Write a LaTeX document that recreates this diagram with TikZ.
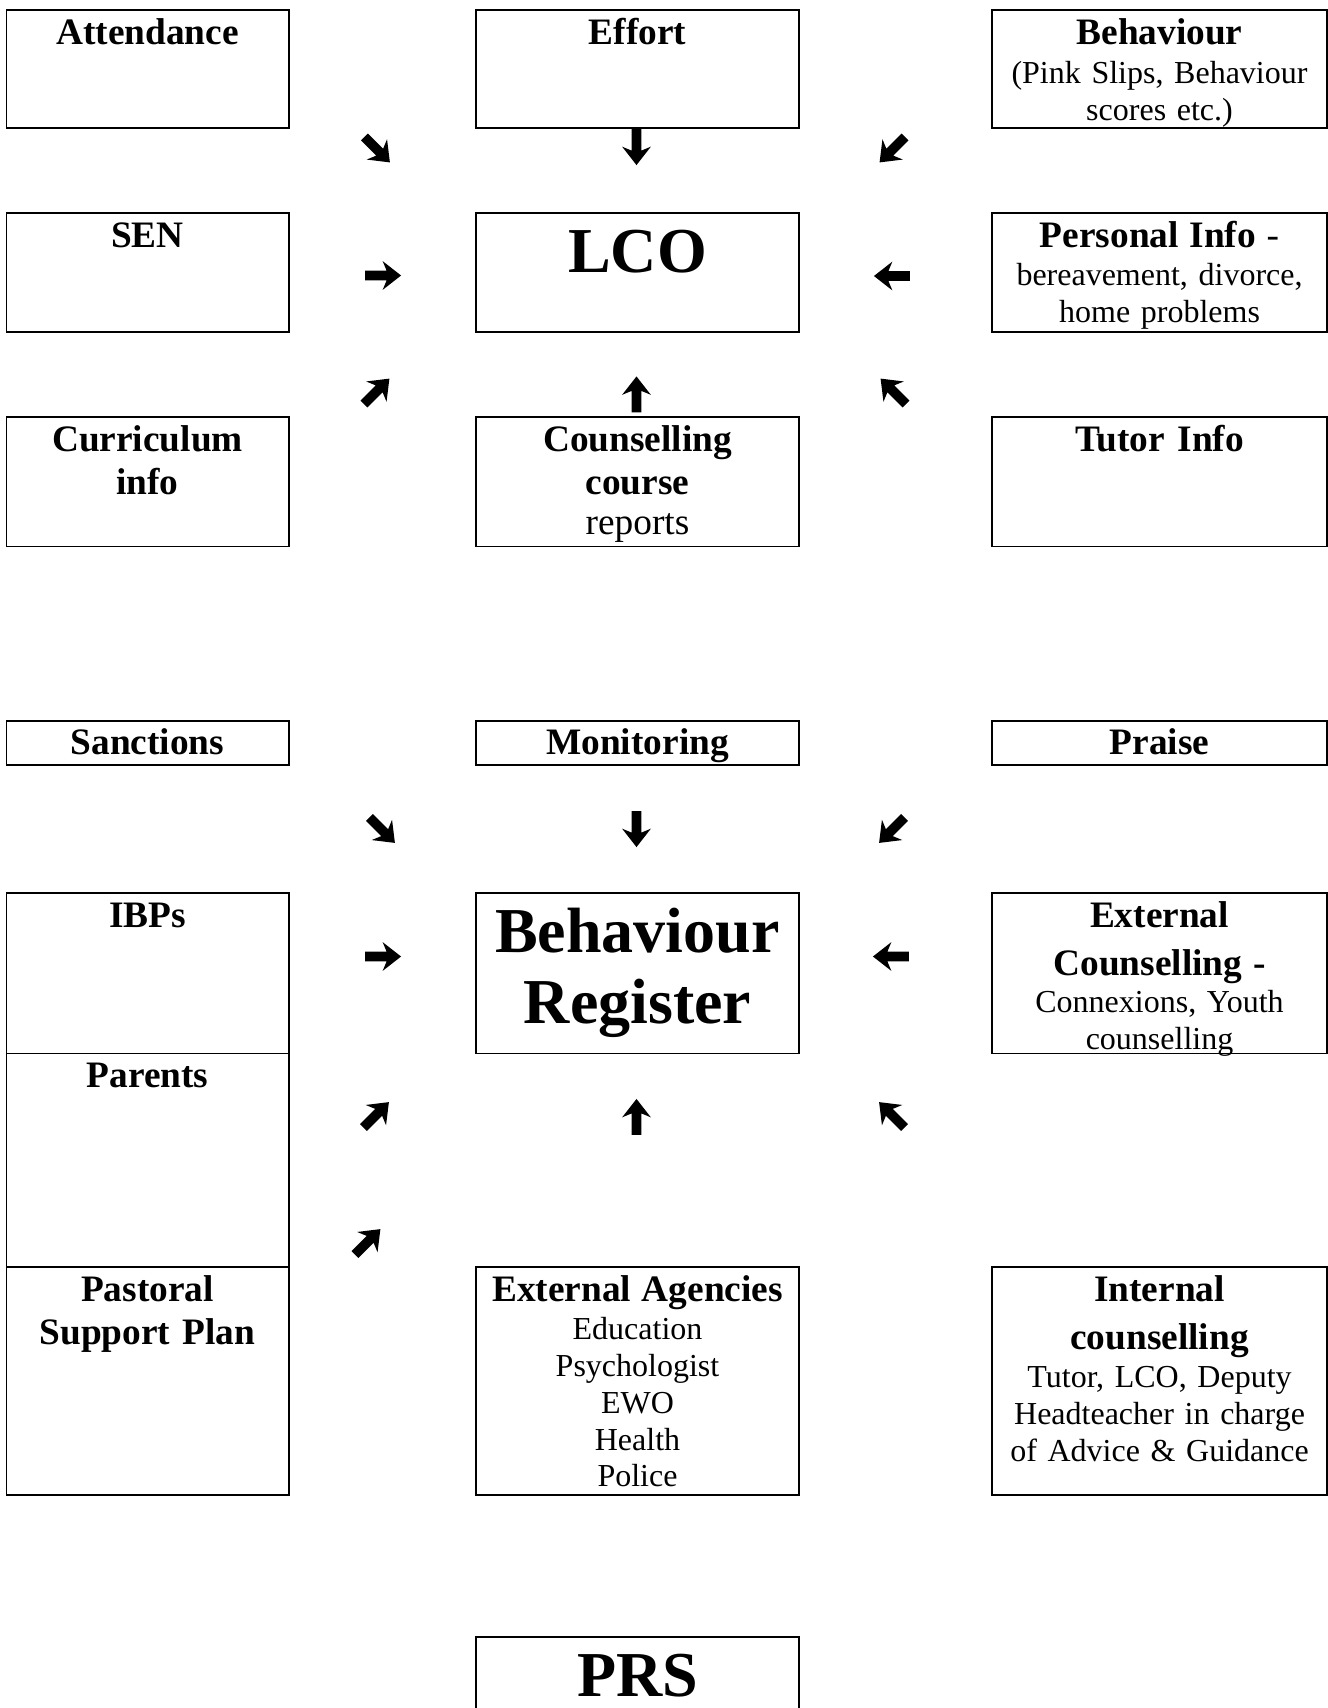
\documentclass[tikz,border=0pt]{standalone}
\usepackage{fontspec}
\setmainfont{Liberation Serif}
\usepackage{tikz}
\usetikzlibrary{shapes.arrows}

\newcommand{\headfont}{\fontsize{14}{16}\selectfont\bfseries}
\newcommand{\bodyfont}{\fontsize{12}{13.8}\selectfont\mdseries}
\newcommand{\bigfont}{\fontsize{24}{26.5}\selectfont\bfseries}

\begin{document}
\begin{tikzpicture}[
    x=0.375pt, y=-0.375pt,
    infobox/.style={draw, line width=0.6pt, anchor=north west, inner sep=0pt},
    boxtext/.style={anchor=base, align=center, inner sep=0pt, font=\headfont},
    fatarrow/.style={single arrow, fill=black, inner xsep=0pt, inner ysep=1.6pt,
                 minimum height=13.5pt, minimum width=10.5pt,
                 single arrow head extend=3.6pt, single arrow tip angle=76,
                 single arrow head indent=1.5pt},
]
\path[fill=white, use as bounding box] (0,0) rectangle (1328,1708);
\clip (0,0) rectangle (1328,1708);

% upper group: sources feeding the LCO
\node[infobox, minimum width=105.9pt, minimum height=44.25pt] (att) at (5.5,9) {};
\node[infobox, minimum width=121.3pt, minimum height=44.25pt] (eff) at (475,9) {};
\node[infobox, minimum width=125.8pt, minimum height=44.25pt] (beh) at (991,9) {};
\node[infobox, minimum width=105.9pt, minimum height=44.6pt] (sen) at (5.5,212) {};
\node[infobox, minimum width=121.3pt, minimum height=44.6pt] (lco) at (475,212) {};
\node[infobox, minimum width=125.8pt, minimum height=44.6pt] (pers) at (991,212) {};
\node[infobox, minimum width=105.9pt, minimum height=48.6pt] (curr) at (5.5,416) {};
\node[infobox, minimum width=121.3pt, minimum height=48.6pt] (couns) at (475,416) {};
\node[infobox, minimum width=125.8pt, minimum height=48.6pt] (tutor) at (991,416) {};

\node[boxtext, text width=100pt] (attT) at ([yshift=-13.3pt]att.north) {Attendance};
\node[boxtext, text width=116pt] (effT) at ([yshift=-13.3pt]eff.north) {Effort};
\node[boxtext, text width=120pt, font=\bodyfont] (behT) at ([yshift=-13.3pt]beh.north)
    {{\headfont Behaviour}\\[0.9pt](Pink Slips, Behaviour\\scores etc.)};
\node[boxtext, text width=100pt] (senT) at ([yshift=-13.3pt]sen.north) {SEN};
\node[boxtext, text width=116pt, font=\bigfont] (lcoT) at ([yshift=-22.8pt]lco.north) {LCO};
\node[boxtext, text width=120pt, font=\bodyfont] (persT) at ([yshift=-13.3pt]pers.north)
    {{\headfont Personal Info \mdseries -}\\[0.6pt]bereavement, divorce,\\home problems};
\node[boxtext, text width=100pt] (currT) at ([yshift=-13.3pt]curr.north) {Curriculum\\info};
\node[boxtext, text width=116pt] (counsT) at ([yshift=-13.3pt]couns.north)
    {Counselling\\course\\[-0.9pt]\mdseries reports};
\node[boxtext, text width=120pt] (tutorT) at ([yshift=-13.3pt]tutor.north) {Tutor Info};

\node[fatarrow, rotate=-45] (a1) at (375,147.5) {};
\node[fatarrow, rotate=-90] (a2) at (636.5,144) {};
\node[fatarrow, rotate=-135] (a3) at (894.5,147.5) {};
\node[fatarrow] (a4) at (380,275.5) {};
\node[fatarrow, rotate=180] (a5) at (895,276) {};
\node[fatarrow, rotate=45] (a6) at (374.5,393.5) {};
\node[fatarrow, rotate=90] (a7) at (636.5,397.5) {};
\node[fatarrow, rotate=135] (a8) at (895.5,393.5) {};

% lower group: the behaviour register
\node[infobox, minimum width=105.9pt, minimum height=16.5pt] (sanc) at (5.5,720) {};
\node[infobox, minimum width=121.3pt, minimum height=16.5pt] (moni) at (475,720) {};
\node[infobox, minimum width=125.8pt, minimum height=16.5pt] (praise) at (991,720) {};
\node[infobox, minimum width=105.9pt, minimum height=60.2pt] (ibp) at (5.5,892) {};
\node[infobox, minimum width=121.3pt, minimum height=60.2pt] (reg) at (475,892) {};
\node[infobox, minimum width=125.8pt, minimum height=60.2pt] (extc) at (991,892) {};
\node[infobox, minimum width=105.9pt, minimum height=80.1pt] (parents) at (5.5,1052.5) {};
\node[infobox, minimum width=105.9pt, minimum height=85.5pt] (psp) at (5.5,1266) {};
\node[infobox, minimum width=121.3pt, minimum height=85.5pt] (agency) at (475,1266) {};
\node[infobox, minimum width=125.8pt, minimum height=85.5pt] (intc) at (991,1266) {};
\node[infobox, minimum width=121.3pt, minimum height=75pt] (prs) at (475,1636) {};

\node[boxtext, text width=100pt] (sancT) at ([yshift=-12.8pt]sanc.north) {Sanctions};
\node[boxtext, text width=116pt] (moniT) at ([yshift=-12.8pt]moni.north) {Monitoring};
\node[boxtext, text width=120pt] (praiseT) at ([yshift=-12.8pt]praise.north) {Praise};
\node[boxtext, text width=100pt] (ibpT) at ([yshift=-13.3pt]ibp.north) {IBPs};
\node[boxtext, text width=116pt, font=\bigfont] (regT) at ([yshift=-22.8pt]reg.north) {Behaviour\\Register};
\node[boxtext, text width=120pt, font=\bodyfont] (extcT) at ([yshift=-13.3pt]extc.north)
    {\headfont External\\[2.1pt]Counselling -\\[0.1pt]\bodyfont Connexions, Youth\\counselling};
\node[boxtext, text width=100pt] (parentsT) at ([yshift=-13.3pt]parents.north) {Parents};
\node[boxtext, text width=100pt] (pspT) at ([yshift=-13.3pt]psp.north) {Pastoral\\Support Plan};
\node[boxtext, text width=116pt, font=\bodyfont] (agencyT) at ([yshift=-13.3pt]agency.north)
    {\headfont External Agencies\\[0.5pt]\bodyfont Education\\Psychologist\\EWO\\Health\\Police};
\node[boxtext, text width=120pt, font=\bodyfont] (intcT) at ([yshift=-13.3pt]intc.north)
    {\headfont Internal\\[2.1pt]counselling\\[0.5pt]\bodyfont Tutor, LCO, Deputy\\Headteacher in charge\\of Advice \& Guidance};
\node[boxtext, text width=116pt, font=\bigfont] (prsT) at ([yshift=-22.8pt]prs.north) {PRS};

\node[fatarrow, rotate=-45] (b1) at (380,828) {};
\node[fatarrow, rotate=-90] (b2) at (636.5,826) {};
\node[fatarrow, rotate=-135] (b3) at (894,828) {};
\node[fatarrow] (b4) at (380,956.5) {};
\node[fatarrow, rotate=180] (b5) at (894,956.5) {};
\node[fatarrow, rotate=45] (b6) at (374,1117) {};
\node[fatarrow, rotate=90] (b7) at (636.5,1120) {};
\node[fatarrow, rotate=135] (b8) at (894,1117) {};
\node[fatarrow, rotate=45] (b9) at (365.5,1244) {};
\end{tikzpicture}
\end{document}
